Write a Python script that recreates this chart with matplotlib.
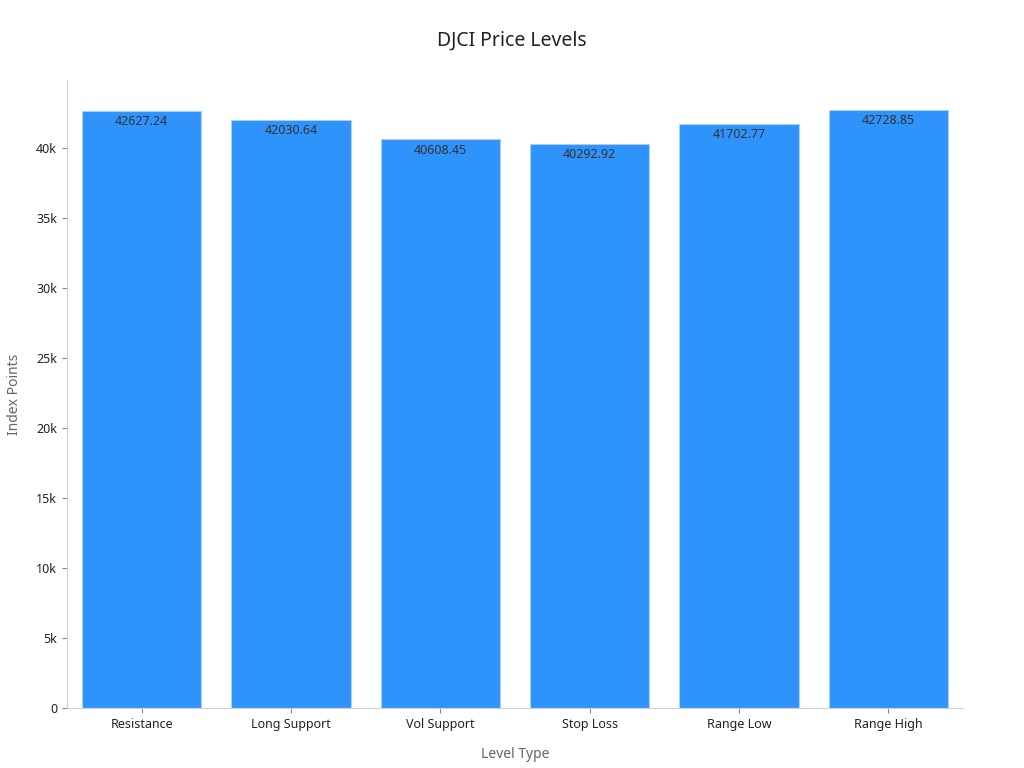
import matplotlib.pyplot as plt
from matplotlib.ticker import FuncFormatter

plt.rcParams['font.family'] = ['Noto Sans', 'DejaVu Sans']

levels = ["Resistance", "Long Support", "Vol Support", "Stop Loss", "Range Low", "Range High"]
points = [42627.24, 42030.64, 40608.45, 40292.92, 41702.77, 42728.85]

fig = plt.figure(figsize=(10.24, 7.68), dpi=100)
ax = fig.add_axes([0.0654, 0.078, 0.8750, 0.818])

bars = ax.bar(levels, points, width=0.8, color="#2E93FA", edgecolor="#a8d0fb", linewidth=0.8)
for b, v in zip(bars, points):
    ax.text(b.get_x() + b.get_width() / 2, v - 300, f"{v:.2f}", ha="center", va="top",
            fontsize=9, color="#333333")

ax.set_xlim(-0.5, 5.5)
ax.set_ylim(0, max(points) * 1.05)
ax.yaxis.set_major_formatter(FuncFormatter(lambda x, p: "0" if x == 0 else f"{int(x/1000)}k"))
ax.set_yticks(range(0, 45000, 5000))

for s in ["top", "right"]:
    ax.spines[s].set_visible(False)
for s in ["left", "bottom"]:
    ax.spines[s].set_color("#d0d0d0")
ax.tick_params(colors="#222222", labelsize=9)
ax.tick_params(axis="both", color="#888888")

ax.set_xlabel("Level Type", fontsize=10, color="#666666", labelpad=12)
ax.set_ylabel("Index Points", fontsize=10, color="#666666", labelpad=10)
fig.suptitle("DJCI Price Levels", fontsize=14, color="#222222", y=0.96)

fig.savefig("out.png")
